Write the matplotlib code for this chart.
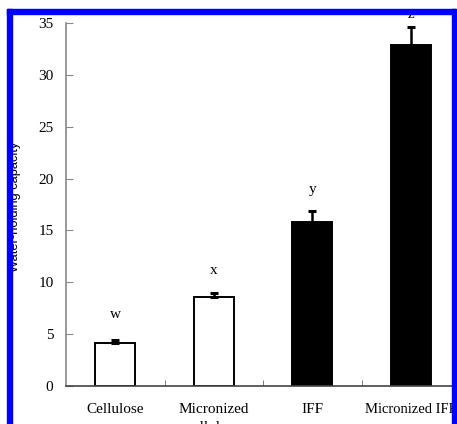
import matplotlib
matplotlib.use("Agg")
import matplotlib.pyplot as plt
from matplotlib.patches import Rectangle

categories = ["Cellulose", "Micronized\ncellulose", "IFF", "Micronized IFF"]
values = [4.15, 8.6, 15.85, 32.9]
errors = [0.3, 0.4, 1.05, 1.7]
letters = ["w", "x", "y", "z"]
letter_y = [6.9, 11.1, 18.9, 35.8]
fills = ["white", "white", "black", "black"]

W, H = 457, 424
fig = plt.figure(figsize=(W / 100, H / 100), dpi=100)
fig.patch.set_facecolor("white")

ax_l, ax_r, ax_b, ax_t = 66, 460, 386, 23
ax = fig.add_axes([ax_l / W, (H - ax_b) / H, (ax_r - ax_l) / W, (ax_b - ax_t) / H])
ax.set_facecolor("white")

x = list(range(len(categories)))
ax.bar(x, values, width=0.41, color=fills, edgecolor="black", linewidth=1.4, zorder=2)
ax.errorbar(x, values, yerr=[[0] * len(values), errors], fmt="none", ecolor="black",
            elinewidth=1.8, capsize=2.8, capthick=2.2, zorder=3)

for xi, t, ly in zip(x, letters, letter_y):
    ax.text(xi, ly, t, ha="center", va="center", fontsize=11,
            family="Liberation Serif", clip_on=False)

ax.set_xlim(-0.5, len(categories) - 0.5)
ax.set_ylim(0, 35)
ax.set_yticks([0, 5, 10, 15, 20, 25, 30, 35])
ax.set_xticks(x)
ax.set_xticklabels(categories, family="Liberation Serif", fontsize=11)
for lab in ax.get_xticklabels():
    lab.set_linespacing(1.55)
ax.get_xticklabels()[3].set_fontsize(10.5)
ax.set_xticks([0.5, 1.5, 2.5], minor=True)
ax.tick_params(axis="x", which="major", length=0, pad=12)
ax.tick_params(axis="x", which="minor", direction="in", length=4, color="#666666")
ax.tick_params(axis="y", direction="in", length=5, color="#888888", pad=9)
for lab in ax.get_yticklabels():
    lab.set_family("Liberation Serif")
    lab.set_fontsize(11)

for s in ["top", "right"]:
    ax.spines[s].set_visible(False)
ax.spines["left"].set_color("#888888")
ax.spines["left"].set_linewidth(1.2)
ax.spines["bottom"].set_color("#444444")
ax.spines["bottom"].set_linewidth(1.2)

fig.text(15 / W, 1 - 207 / H, "Water-holding capacity", rotation=90, ha="center",
         va="center", fontsize=9.3, family="Liberation Sans")

blue = "#0000ff"
fig.add_artist(Rectangle((7 / W, 0), 5 / W, 1 - 9 / H, transform=fig.transFigure,
                         color=blue, zorder=10))
fig.add_artist(Rectangle((7 / W, 1 - 14 / H), (456 - 7) / W, 5 / H,
                         transform=fig.transFigure, color=blue, zorder=10))
fig.add_artist(Rectangle((452 / W, 0), 4 / W, 1 - 9 / H, transform=fig.transFigure,
                         color=blue, zorder=10))

fig.savefig("out.png", dpi=100, facecolor="white")
